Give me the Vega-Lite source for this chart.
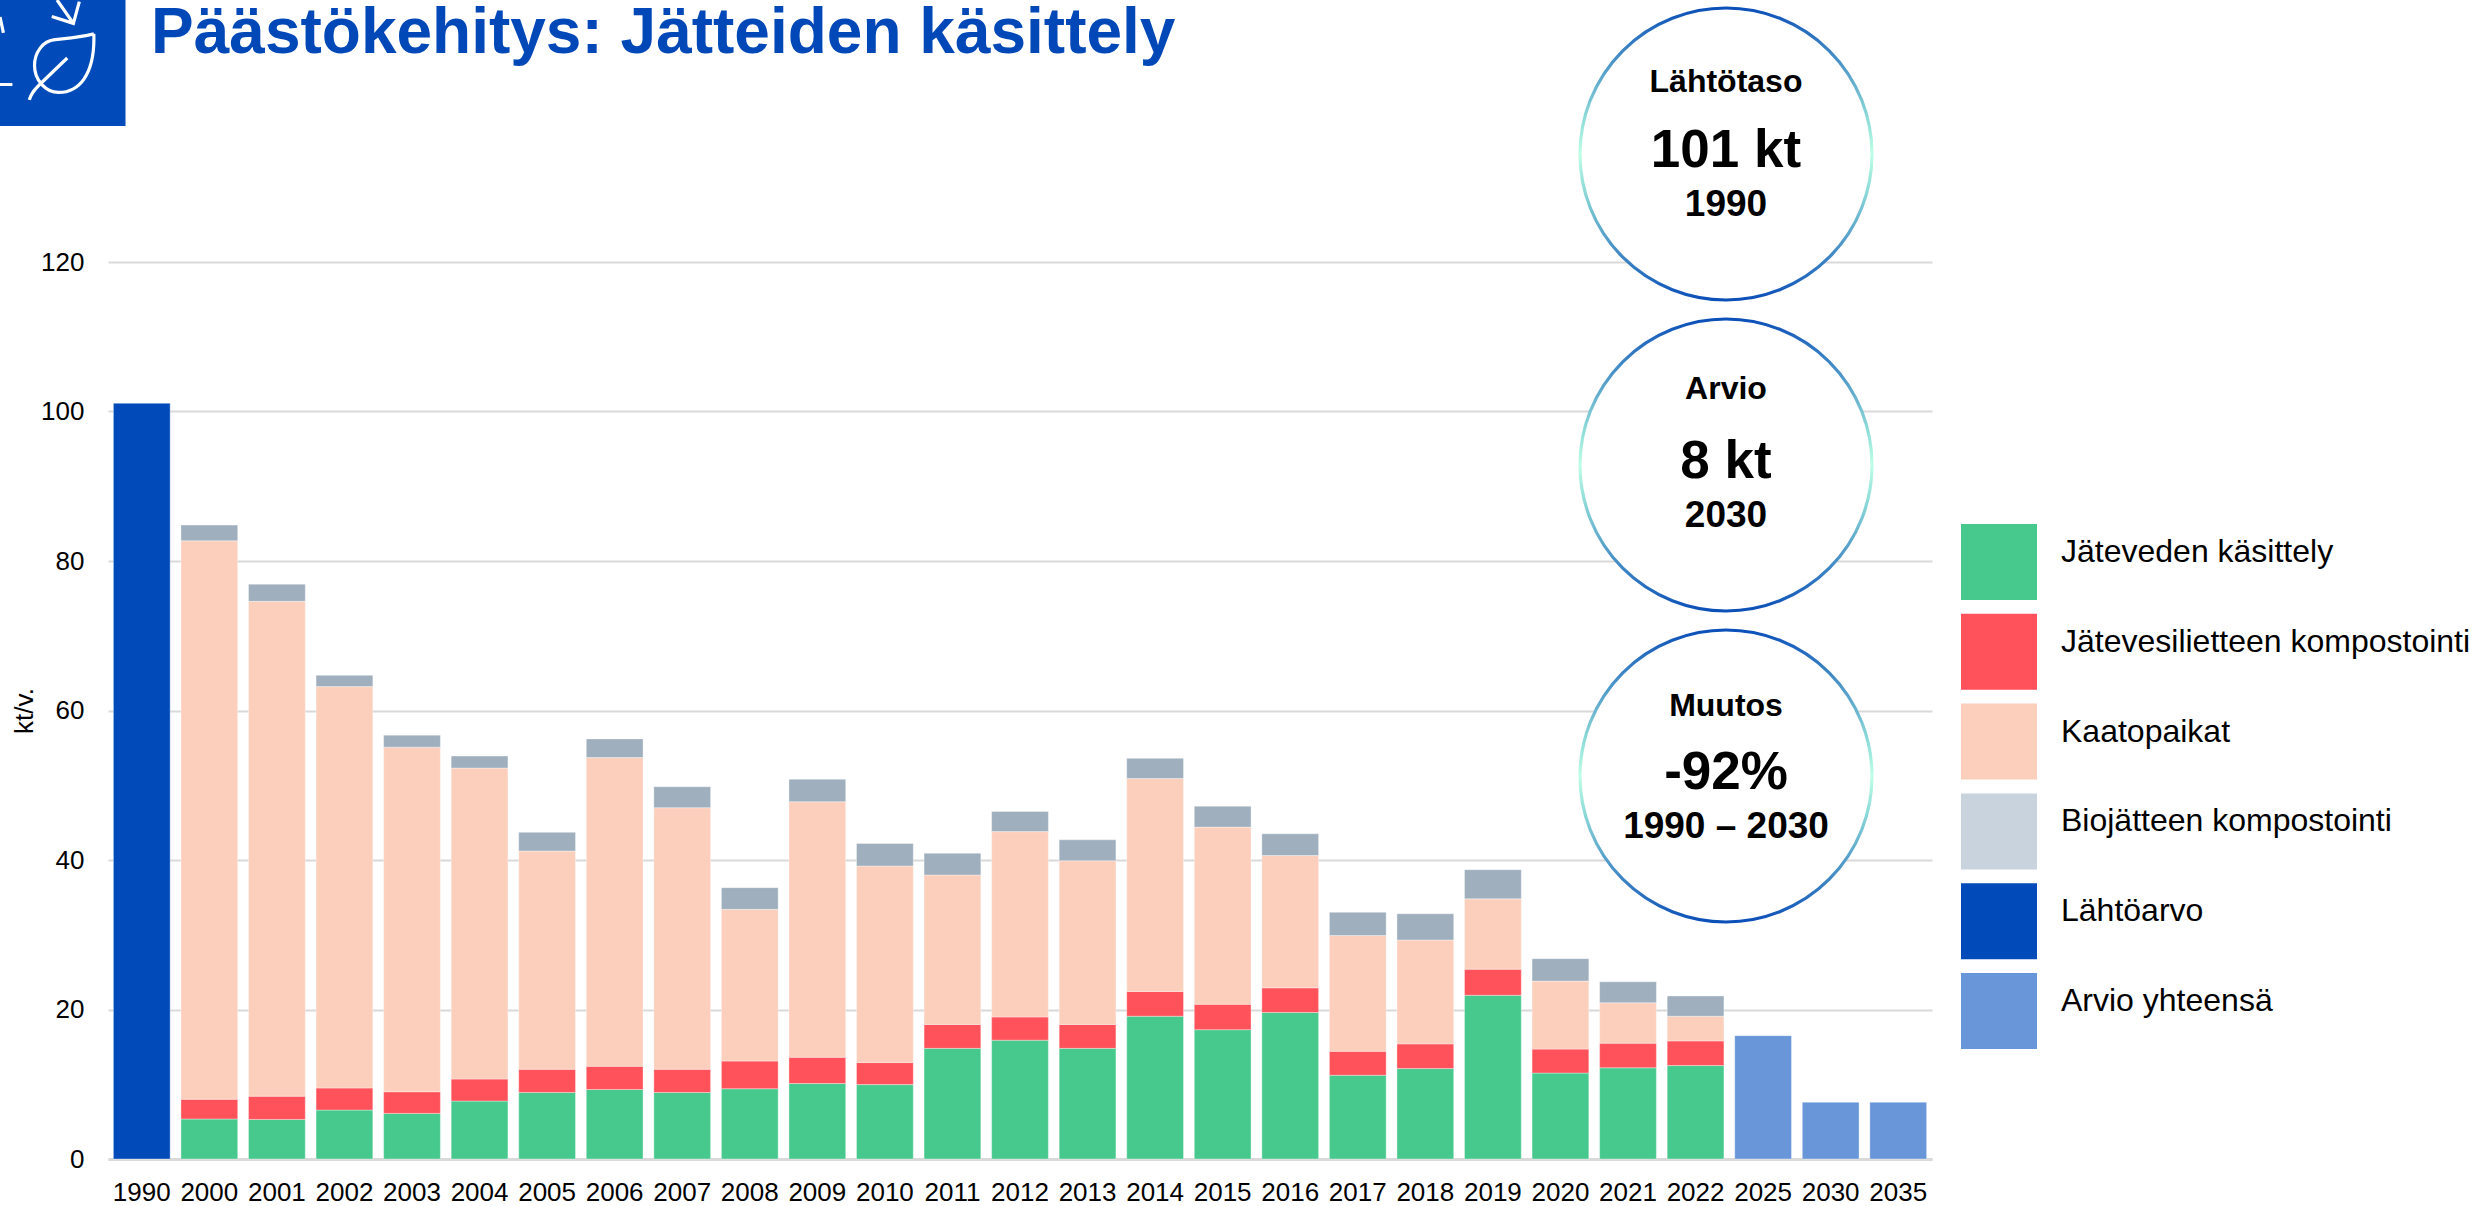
{
"$schema":"https://vega.github.io/schema/vega-lite/v6.json",
"autosize":{"type":"none"},
"padding":{"left":108,"top":262,"right":544,"bottom":47},
"width":1824,"height":897,
"background":"white",
"config":{"font":"Liberation Sans","view":{"stroke":null}},
"title":{"text":"Päästökehitys: Jätteiden käsittely","anchor":"start","frame":"group","fontSize":64,"fontWeight":"bold","color":"#0047B8","font":"Liberation Sans","baseline":"alphabetic","offset":-123,"dx":43},
"datasets":{
"kpi":[
{"kohta":"A","otsikko":"Lähtötaso","arvo":"101 kt","jakso":"1990"},
{"kohta":"B","otsikko":"Arvio","arvo":"8 kt","jakso":"2030"},
{"kohta":"C","otsikko":"Muutos","arvo":"-92%","jakso":"1990 – 2030"}
],
"merkki":[{"merkki":"logo"}],
"selite":[{"s":"Jäteveden käsittely"},{"s":"Jätevesilietteen kompostointi"},{"s":"Kaatopaikat"},{"s":"Biojätteen kompostointi"},{"s":"Lähtöarvo"},{"s":"Arvio yhteensä"}]
},
"layer":[
{
"data":{"values":[
{"v":"1990","s":"Lähtöarvo","o":5,"a":101.1},
{"v":"2000","s":"Jäteveden käsittely","o":1,"a":5.35},{"v":"2000","s":"Jätevesilietteen kompostointi","o":2,"a":2.65},{"v":"2000","s":"Kaatopaikat","o":3,"a":74.7},{"v":"2000","s":"Biojätteen kompostointi","o":4,"a":2.1},
{"v":"2001","s":"Jäteveden käsittely","o":1,"a":5.3},{"v":"2001","s":"Jätevesilietteen kompostointi","o":2,"a":3.1},{"v":"2001","s":"Kaatopaikat","o":3,"a":66.2},{"v":"2001","s":"Biojätteen kompostointi","o":4,"a":2.3},
{"v":"2002","s":"Jäteveden käsittely","o":1,"a":6.55},{"v":"2002","s":"Jätevesilietteen kompostointi","o":2,"a":2.95},{"v":"2002","s":"Kaatopaikat","o":3,"a":53.7},{"v":"2002","s":"Biojätteen kompostointi","o":4,"a":1.5},
{"v":"2003","s":"Jäteveden käsittely","o":1,"a":6.1},{"v":"2003","s":"Jätevesilietteen kompostointi","o":2,"a":2.9},{"v":"2003","s":"Kaatopaikat","o":3,"a":46.1},{"v":"2003","s":"Biojätteen kompostointi","o":4,"a":1.6},
{"v":"2004","s":"Jäteveden käsittely","o":1,"a":7.75},{"v":"2004","s":"Jätevesilietteen kompostointi","o":2,"a":2.95},{"v":"2004","s":"Kaatopaikat","o":3,"a":41.6},{"v":"2004","s":"Biojätteen kompostointi","o":4,"a":1.6},
{"v":"2005","s":"Jäteveden käsittely","o":1,"a":8.9},{"v":"2005","s":"Jätevesilietteen kompostointi","o":2,"a":3.1},{"v":"2005","s":"Kaatopaikat","o":3,"a":29.2},{"v":"2005","s":"Biojätteen kompostointi","o":4,"a":2.5},
{"v":"2006","s":"Jäteveden käsittely","o":1,"a":9.3},{"v":"2006","s":"Jätevesilietteen kompostointi","o":2,"a":3.1},{"v":"2006","s":"Kaatopaikat","o":3,"a":41.3},{"v":"2006","s":"Biojätteen kompostointi","o":4,"a":2.5},
{"v":"2007","s":"Jäteveden käsittely","o":1,"a":8.9},{"v":"2007","s":"Jätevesilietteen kompostointi","o":2,"a":3.1},{"v":"2007","s":"Kaatopaikat","o":3,"a":35.0},{"v":"2007","s":"Biojätteen kompostointi","o":4,"a":2.8},
{"v":"2008","s":"Jäteveden käsittely","o":1,"a":9.4},{"v":"2008","s":"Jätevesilietteen kompostointi","o":2,"a":3.7},{"v":"2008","s":"Kaatopaikat","o":3,"a":20.3},{"v":"2008","s":"Biojätteen kompostointi","o":4,"a":2.9},
{"v":"2009","s":"Jäteveden käsittely","o":1,"a":10.1},{"v":"2009","s":"Jätevesilietteen kompostointi","o":2,"a":3.5},{"v":"2009","s":"Kaatopaikat","o":3,"a":34.2},{"v":"2009","s":"Biojätteen kompostointi","o":4,"a":3.0},
{"v":"2010","s":"Jäteveden käsittely","o":1,"a":9.95},{"v":"2010","s":"Jätevesilietteen kompostointi","o":2,"a":2.95},{"v":"2010","s":"Kaatopaikat","o":3,"a":26.3},{"v":"2010","s":"Biojätteen kompostointi","o":4,"a":3.0},
{"v":"2011","s":"Jäteveden käsittely","o":1,"a":14.8},{"v":"2011","s":"Jätevesilietteen kompostointi","o":2,"a":3.2},{"v":"2011","s":"Kaatopaikat","o":3,"a":20.0},{"v":"2011","s":"Biojätteen kompostointi","o":4,"a":2.9},
{"v":"2012","s":"Jäteveden käsittely","o":1,"a":15.9},{"v":"2012","s":"Jätevesilietteen kompostointi","o":2,"a":3.1},{"v":"2012","s":"Kaatopaikat","o":3,"a":24.8},{"v":"2012","s":"Biojätteen kompostointi","o":4,"a":2.7},
{"v":"2013","s":"Jäteveden käsittely","o":1,"a":14.8},{"v":"2013","s":"Jätevesilietteen kompostointi","o":2,"a":3.2},{"v":"2013","s":"Kaatopaikat","o":3,"a":21.9},{"v":"2013","s":"Biojätteen kompostointi","o":4,"a":2.8},
{"v":"2014","s":"Jäteveden käsittely","o":1,"a":19.1},{"v":"2014","s":"Jätevesilietteen kompostointi","o":2,"a":3.3},{"v":"2014","s":"Kaatopaikat","o":3,"a":28.5},{"v":"2014","s":"Biojätteen kompostointi","o":4,"a":2.7},
{"v":"2015","s":"Jäteveden käsittely","o":1,"a":17.3},{"v":"2015","s":"Jätevesilietteen kompostointi","o":2,"a":3.4},{"v":"2015","s":"Kaatopaikat","o":3,"a":23.7},{"v":"2015","s":"Biojätteen kompostointi","o":4,"a":2.8},
{"v":"2016","s":"Jäteveden käsittely","o":1,"a":19.6},{"v":"2016","s":"Jätevesilietteen kompostointi","o":2,"a":3.3},{"v":"2016","s":"Kaatopaikat","o":3,"a":17.7},{"v":"2016","s":"Biojätteen kompostointi","o":4,"a":2.9},
{"v":"2017","s":"Jäteveden käsittely","o":1,"a":11.2},{"v":"2017","s":"Jätevesilietteen kompostointi","o":2,"a":3.2},{"v":"2017","s":"Kaatopaikat","o":3,"a":15.5},{"v":"2017","s":"Biojätteen kompostointi","o":4,"a":3.1},
{"v":"2018","s":"Jäteveden käsittely","o":1,"a":12.1},{"v":"2018","s":"Jätevesilietteen kompostointi","o":2,"a":3.3},{"v":"2018","s":"Kaatopaikat","o":3,"a":13.9},{"v":"2018","s":"Biojätteen kompostointi","o":4,"a":3.5},
{"v":"2019","s":"Jäteveden käsittely","o":1,"a":21.9},{"v":"2019","s":"Jätevesilietteen kompostointi","o":2,"a":3.5},{"v":"2019","s":"Kaatopaikat","o":3,"a":9.4},{"v":"2019","s":"Biojätteen kompostointi","o":4,"a":3.9},
{"v":"2020","s":"Jäteveden käsittely","o":1,"a":11.5},{"v":"2020","s":"Jätevesilietteen kompostointi","o":2,"a":3.2},{"v":"2020","s":"Kaatopaikat","o":3,"a":9.1},{"v":"2020","s":"Biojätteen kompostointi","o":4,"a":3.0},
{"v":"2021","s":"Jäteveden käsittely","o":1,"a":12.2},{"v":"2021","s":"Jätevesilietteen kompostointi","o":2,"a":3.3},{"v":"2021","s":"Kaatopaikat","o":3,"a":5.4},{"v":"2021","s":"Biojätteen kompostointi","o":4,"a":2.8},
{"v":"2022","s":"Jäteveden käsittely","o":1,"a":12.5},{"v":"2022","s":"Jätevesilietteen kompostointi","o":2,"a":3.3},{"v":"2022","s":"Kaatopaikat","o":3,"a":3.3},{"v":"2022","s":"Biojätteen kompostointi","o":4,"a":2.7},
{"v":"2025","s":"Arvio yhteensä","o":6,"a":16.5},
{"v":"2030","s":"Arvio yhteensä","o":6,"a":7.6},
{"v":"2035","s":"Arvio yhteensä","o":6,"a":7.6}
]},
"mark":{"type":"bar","stroke":"#FFFFFF","strokeOpacity":0.35,"strokeWidth":1},
"encoding":{
"x":{"field":"v","type":"nominal","title":null,"scale":{"paddingInner":0.16,"paddingOuter":0.08},
 "axis":{"labelAngle":0,"labelFontSize":26,"labelColor":"#000000","ticks":false,"domainColor":"#D9D9D9","domainWidth":3,"labelPadding":20,"labelBaseline":"top"}},
"y":{"field":"a","type":"quantitative","stack":"zero","scale":{"domain":[0,120]},"title":"kt/v.",
 "axis":{"values":[0,20,40,60,80,100,120],"labelFontSize":26,"labelColor":"#000000","ticks":false,"domain":false,"labelPadding":24,"gridColor":"#D9D9D9","gridWidth":2,"titleFontSize":26,"titleFontWeight":"normal","titleColor":"#000000","titlePadding":3}},
"color":{"field":"s","type":"nominal","scale":{"domain":["Jäteveden käsittely","Jätevesilietteen kompostointi","Kaatopaikat","Biojätteen kompostointi","Lähtöarvo","Arvio yhteensä"],"range":["#47C98D","#FF525A","#FCCFBC","#9FAFBE","#004BB9","#6896D8"]},"legend":null},
"order":{"field":"o","type":"quantitative"}
}
},
{
"data":{"name":"selite"},
"mark":{"type":"point","filled":true,"opacity":1,"size":0,"strokeWidth":0},
"encoding":{
"color":{"field":"s","type":"nominal","scale":{"domain":["Jäteveden käsittely","Jätevesilietteen kompostointi","Kaatopaikat","Biojätteen kompostointi","Lähtöarvo","Arvio yhteensä"],"range":["#47C98D","#FF525A","#FCCFBC","#C8D3DD","#004BB9","#6896D8"]},
 "legend":{"title":null,"orient":"none","legendX":1853,"legendY":262,"symbolType":"square","symbolSize":5776,"symbolStrokeWidth":0,"symbolOpacity":1,"rowPadding":13.8,"labelFontSize":32,"labelColor":"#000000","labelLimit":600,"labelOffset":24,"labelBaseline":"alphabetic"}}
}
},
{
"data":{"name":"kpi"},
"mark":{"type":"point","filled":true,"fill":"#FFFFFF","opacity":1,"size":85264,"strokeWidth":3.2,"stroke":{"gradient":"linear","x1":0,"y1":0,"x2":0,"y2":1,"stops":[{"offset":0,"color":"#0B4FB8"},{"offset":0.38,"color":"#8FDCD8"},{"offset":0.5,"color":"#C0FFE6"},{"offset":0.62,"color":"#8FDCD8"},{"offset":1,"color":"#0B4FB8"}]}},
"encoding":{
"x":{"field":"kohta","type":"nominal","scale":{"type":"point","range":[1618,1618]},"axis":null},
"y":{"field":"kohta","type":"nominal","scale":{"type":"point","padding":0,"range":[-108,514]},"axis":null}
}
},
{
"data":{"name":"kpi"},"transform":[{"filter":"datum.kohta === 'A'"}],
"mark":{"type":"text","fontWeight":"bold","fontSize":32,"color":"#000000","baseline":"middle","dy":-72.5},
"encoding":{"text":{"field":"otsikko"},
"x":{"field":"kohta","type":"nominal","scale":{"type":"point","range":[1618,1618]},"axis":null},
"y":{"field":"kohta","type":"nominal","scale":{"type":"point","padding":0,"domain":["A","B","C"],"range":[-108,514]},"axis":null}}
},
{
"data":{"name":"kpi"},"transform":[{"filter":"datum.kohta === 'B'"}],
"mark":{"type":"text","fontWeight":"bold","fontSize":32,"color":"#000000","baseline":"middle","dy":-76.5},
"encoding":{"text":{"field":"otsikko"},
"x":{"field":"kohta","type":"nominal","scale":{"type":"point","range":[1618,1618]},"axis":null},
"y":{"field":"kohta","type":"nominal","scale":{"type":"point","padding":0,"domain":["A","B","C"],"range":[-108,514]},"axis":null}}
},
{
"data":{"name":"kpi"},"transform":[{"filter":"datum.kohta === 'C'"}],
"mark":{"type":"text","fontWeight":"bold","fontSize":32,"color":"#000000","baseline":"middle","dy":-70},
"encoding":{"text":{"field":"otsikko"},
"x":{"field":"kohta","type":"nominal","scale":{"type":"point","range":[1618,1618]},"axis":null},
"y":{"field":"kohta","type":"nominal","scale":{"type":"point","padding":0,"domain":["A","B","C"],"range":[-108,514]},"axis":null}}
},
{
"data":{"name":"kpi"},
"mark":{"type":"text","fontWeight":"bold","fontSize":53,"color":"#000000","baseline":"middle","dy":-3.5},
"encoding":{"text":{"field":"arvo"},
"x":{"field":"kohta","type":"nominal","scale":{"type":"point","range":[1618,1618]},"axis":null},
"y":{"field":"kohta","type":"nominal","scale":{"type":"point","padding":0,"domain":["A","B","C"],"range":[-108,514]},"axis":null}}
},
{
"data":{"name":"kpi"},
"mark":{"type":"text","fontWeight":"bold","fontSize":37,"color":"#000000","baseline":"middle","dy":51},
"encoding":{"text":{"field":"jakso"},
"x":{"field":"kohta","type":"nominal","scale":{"type":"point","range":[1618,1618]},"axis":null},
"y":{"field":"kohta","type":"nominal","scale":{"type":"point","padding":0,"domain":["A","B","C"],"range":[-108,514]},"axis":null}}
},
{
"data":{"name":"merkki"},
"mark":{"type":"point","filled":true,"fill":"#004BB9","stroke":null,"opacity":1,"size":15876,"shape":"M-1,-1H1V1H-1Z"},
"encoding":{
"x":{"field":"merkki","type":"nominal","scale":{"type":"point","range":[-45.5,-45.5]},"axis":null},
"y":{"field":"merkki","type":"nominal","scale":{"type":"point","range":[-199,-199]},"axis":null}}
},
{
"data":{"name":"merkki"},
"mark":{"type":"point","filled":false,"stroke":"#FFFFFF","strokeWidth":3.2,"opacity":1,"size":15876,"shape":"M0.497,-0.463C0.25,-0.4,0.05,-0.39,-0.119,-0.37C-0.32,-0.35,-0.444,-0.16,-0.444,0.04C-0.444,0.27,-0.27,0.467,-0.062,0.467C0.25,0.467,0.52,0.2,0.497,-0.463M0.075,-0.079L-0.362,0.341C-0.44,0.42,-0.5,0.48,-0.527,0.587M-0.087,-1L0.173,-0.629M-0.171,-0.738L0.173,-0.629L0.267,-0.973M-0.992,-0.73L-0.938,-0.479M-0.992,0.341L-0.795,0.341"},
"encoding":{
"x":{"field":"merkki","type":"nominal","scale":{"type":"point","range":[-45.5,-45.5]},"axis":null},
"y":{"field":"merkki","type":"nominal","scale":{"type":"point","range":[-199,-199]},"axis":null}}
}
],
"resolve":{"scale":{"x":"independent","y":"independent","color":"independent"}}
}
